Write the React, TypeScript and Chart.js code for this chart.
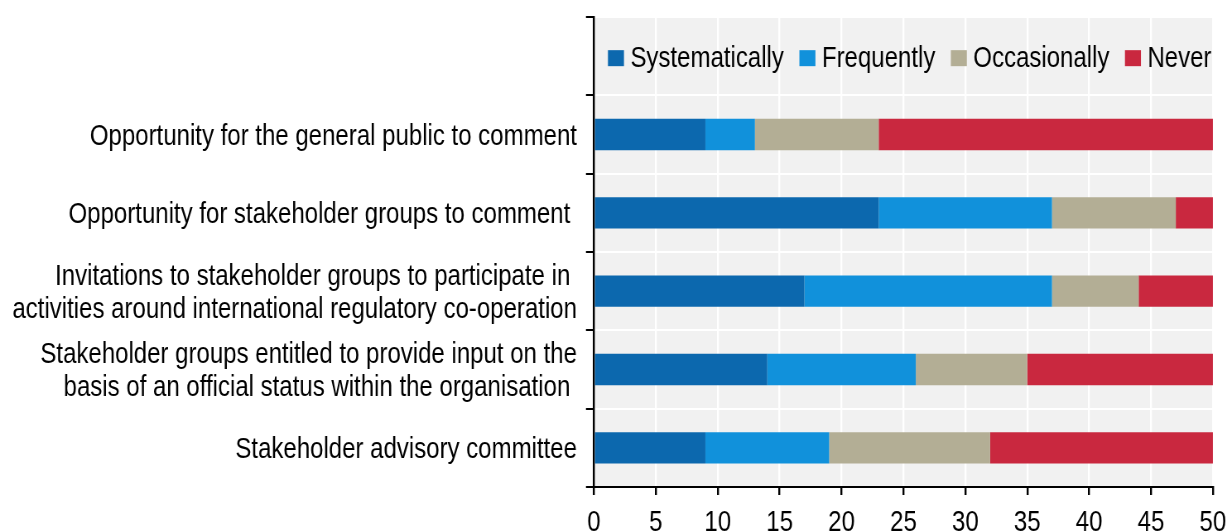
import React, { useEffect, useRef } from 'react';
import { Chart, registerables } from 'chart.js';

Chart.register(...registerables);

const categories: (string | string[])[] = [
  '',
  'Opportunity for the general public to comment',
  'Opportunity for stakeholder groups to comment ',
  ['Invitations to stakeholder groups to participate in ', 'activities around international regulatory co-operation'],
  ['Stakeholder groups entitled to provide input on the', 'basis of an official status within the organisation '],
  'Stakeholder advisory committee',
];

const seriesNames = ['Systematically', 'Frequently', 'Occasionally', 'Never'];
const systematically = [null, 9, 23, 17, 14, 9];
const frequently = [null, 4, 14, 20, 12, 10];
const occasionally = [null, 10, 10, 7, 9, 13];
const never = [null, 27, 3, 6, 15, 18];
const colors = ['#0C68AE', '#1191DB', '#B3AE95', '#C9283F'];
const xTicks = [0, 5, 10, 15, 20, 25, 30, 35, 40, 45, 50];

const FONT = '"Liberation Sans", Arial, sans-serif';
const FONT_SIZE = 29;

// The reference uses a condensed face; the canvas is drawn wider and shown at 1227px.
const VIEW_W = 1227;
const VIEW_H = 532;
const SQUEEZE = 0.828;
const CANVAS_W = Math.round(VIEW_W / SQUEEZE);
const sx = (v: number) => v / SQUEEZE;

const bgPlugin = {
  id: 'plotBg',
  beforeDraw(chart: any) {
    const { ctx, chartArea } = chart;
    ctx.save();
    ctx.fillStyle = '#F1F1F1';
    ctx.fillRect(chartArea.left, chartArea.top, chartArea.right - chartArea.left, chartArea.bottom - chartArea.top);
    ctx.restore();
  },
};

const legendPlugin = {
  id: 'innerLegend',
  afterDatasetsDraw(chart: any) {
    const { ctx, chartArea, scales } = chart;
    const yScale = scales.y;
    const cy = yScale.getPixelForValue(0) + 2;
    let x = chartArea.left + sx(14);
    ctx.save();
    ctx.font = `${FONT_SIZE}px ${FONT}`;
    ctx.textBaseline = 'middle';
    ctx.textAlign = 'left';
    chart.data.datasets.forEach((ds: any) => {
      ctx.fillStyle = ds.backgroundColor;
      ctx.fillRect(x, cy - 8, sx(16), 16);
      x += sx(16) + sx(6.5);
      ctx.fillStyle = '#000';
      ctx.fillText(ds.label, x, cy + 1);
      x += ctx.measureText(ds.label).width + sx(15.5);
    });
    ctx.restore();
  },
};

export default function App() {
  const ref = useRef<HTMLCanvasElement | null>(null);

  useEffect(() => {
    if (!ref.current) return;
    const data = [systematically, frequently, occasionally, never];
    const chart = new Chart(ref.current, {
      type: 'bar',
      data: {
        labels: categories as any,
        datasets: seriesNames.map((name, i) => ({
          label: name,
          data: data[i] as any,
          backgroundColor: colors[i],
          borderWidth: 0,
          barPercentage: 0.4,
          categoryPercentage: 1,
        })),
      },
      options: {
        indexAxis: 'y',
        responsive: false,
        maintainAspectRatio: false,
        animation: false,
        devicePixelRatio: 1,
        events: [],
        layout: { padding: { top: 17, right: CANVAS_W - sx(1213), left: 0, bottom: 0 } },
        plugins: {
          legend: { display: false },
          tooltip: { enabled: false },
          title: { display: false },
        },
        scales: {
          x: {
            stacked: true,
            min: 0,
            max: 50,
            afterFit: (s: any) => {
              s.height = 45;
              s.paddingLeft = 0;
              s.paddingRight = 0;
            },
            afterBuildTicks: (s: any) => { s.ticks = xTicks.map((v) => ({ value: v })); },
            grid: {
              color: '#FFFFFF',
              lineWidth: 2.4,
              tickColor: '#000000',
              tickLength: 8,
              tickWidth: 2.4,
            },
            border: { color: '#000000', width: 2 },
            ticks: {
              color: '#000',
              font: { family: FONT, size: FONT_SIZE },
              padding: 11,
              maxRotation: 0,
              autoSkip: false,
            },
          },
          y: {
            stacked: true,
            afterFit: (s: any) => {
              s.width = sx(594);
              s.paddingTop = 0;
              s.paddingBottom = 0;
            },
            grid: {
              color: '#FFFFFF',
              lineWidth: 2,
              tickColor: '#000000',
              tickLength: sx(8),
              tickWidth: 2,
              offset: true,
            },
            border: { color: '#000000', width: 2.4 },
            ticks: {
              color: '#000',
              font: { family: FONT, size: FONT_SIZE, lineHeight: 33 / FONT_SIZE },
              padding: sx(9),
              labelOffset: 2,
              autoSkip: false,
            },
          },
        },
      },
      plugins: [bgPlugin, legendPlugin],
    } as any);
    return () => chart.destroy();
  }, []);

  return (
    <div style={{ position: 'absolute', left: 0, top: 0, width: VIEW_W, height: VIEW_H, background: '#fff', overflow: 'hidden' }}>
      <canvas
        ref={ref}
        width={CANVAS_W}
        height={VIEW_H}
        style={{ width: VIEW_W + 'px', height: VIEW_H + 'px', display: 'block' }}
      />
    </div>
  );
}
